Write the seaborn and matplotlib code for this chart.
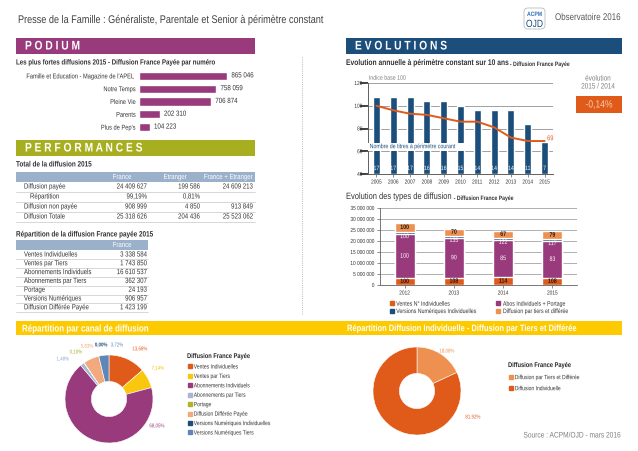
import matplotlib
matplotlib.use("Agg")
import matplotlib.pyplot as plt
import matplotlib.text as mtext
from matplotlib.lines import Line2D
from matplotlib.patches import Rectangle, FancyBboxPatch
from matplotlib.patheffects import AbstractPathEffect
from matplotlib.transforms import Affine2D
import numpy as np
import seaborn as sns

# --- data ---------------------------------------------------------------
podium_titles = ["Famille et Education - Magazine de l'APEL", "Notre Temps",
                 "Pleine Vie", "Parents", "Plus de Pep's"]
podium_values = [865046, 758059, 706874, 202310, 104223]

total_rows = ["Diffusion payée", "Répartition", "Diffusion non payée", "Diffusion Totale"]
total_france = [24409627, None, 908999, 25318626]
total_etranger = [199586, None, 4850, 204436]
total_all = [24609213, None, 913849, 25523062]
repartition_pct = ["99,19%", "0,81%", ""]

canal_rows = ["Ventes Individuelles", "Ventes par Tiers", "Abonnements Individuels",
              "Abonnements par Tiers", "Portage", "Versions Numériques",
              "Diffusion Différée Payée"]
canal_france = [3338584, 1743850, 16610537, 362307, 24193, 906957, 1423199]

evo_years = list(range(2005, 2016))
evo_index = [100, 96, 93, 92, 89, 86, 86, 81, 72, 69, 69]
evo_titles = [17, 17, 17, 16, 16, 15, 14, 14, 14, 11, 7]
evo_change = "-0,14%"

type_years = ["2012", "2013", "2014", "2015"]
type_names = ["Ventes N° Individuelles", "Abos Individuels + Portage",
              "Versions Numériques Individuelles", "Diffusion par tiers et différée"]
type_vi = [3.09e6, 3.34e6, 3.52e6, 3.34e6]
type_abos = [20.04e6, 18.04e6, 17.03e6, 16.63e6]
type_vn = [0.78e6, 1.05e6, 0.95e6, 0.91e6]
type_tiers = [4.47e6, 3.13e6, 2.99e6, 3.53e6]
idx_vi = [100, 108, 114, 108]
idx_abos = [100, 90, 85, 83]
idx_vn = [100, 135, 122, 117]
idx_tiers = [100, 70, 67, 79]

pie_labels = ["Ventes Individuelles", "Ventes par Tiers", "Abonnements Individuels",
              "Abonnements par Tiers", "Portage", "Diffusion Différée Payée",
              "Versions Numériques Individuelles", "Versions Numériques Tiers"]
pie_values = [3338584, 1743850, 16610537, 362307, 24193, 1423199, 0, 906957]

indiv_labels = ["Diffusion par Tiers et Différée", "Diffusion Individuelle"]
indiv_pct = [18.08, 81.92]

# --- style --------------------------------------------------------------
PURPLE = "#993A7D"
OLIVE = "#A7AE1F"
YELLOW = "#FDCA00"
NAVY = "#1C4E7C"
HEAD = "#9AB0CB"
ORANGE = "#E05A1A"
LORANGE = "#EE9150"
TXT = "#333333"
GREY = "#7F7F7F"
SX = 0.82  # horizontal squeeze to mimic a narrow font

sns.set_theme(style="white")
plt.rcParams["font.family"] = ["Liberation Sans", "DejaVu Sans"]


class Condense(AbstractPathEffect):
    """Squeeze glyphs horizontally around an anchor x (display coords)."""

    def __init__(self, sx, x0):
        super().__init__()
        self.sx, self.x0 = sx, x0

    def draw_path(self, renderer, gc, tpath, affine, rgbFace=None):
        aff = affine + Affine2D().translate(-self.x0, 0).scale(self.sx, 1).translate(self.x0, 0)
        renderer.draw_path(gc, tpath, aff, rgbFace)


W, H = 638, 452
fig = plt.figure(figsize=(W / 100, H / 100), dpi=100)
bg = fig.add_axes([0, 0, 1, 1])
bg.set_xlim(0, W)
bg.set_ylim(H, 0)
bg.axis("off")


def box(l, t, r, b):
    return [l / W, 1 - b / H, (r - l) / W, (b - t) / H]


def fmt(v):
    return f"{int(round(v)):,}".replace(",", " ")


def pct(v):
    return f"{v:.2f}%".replace(".", ",")


def banner(l, t, r, b, color, text, size=9):
    bg.add_patch(Rectangle((l, t), r - l, b - t, color=color, lw=0))
    bg.text(l + 9, (t + b) / 2 + 0.5, text, color="white", fontsize=size,
            fontweight="bold", va="center", ha="left")


def title_pair(x, y, main, sub, main_size=6.0, weight="bold"):
    t = bg.text(x, y, main, fontsize=main_size, fontweight=weight, color=TXT,
                va="baseline", ha="left")
    bg.annotate(sub, xy=(SX, 0), xycoords=t, fontsize=4.5, fontweight="bold",
                color=TXT, va="bottom", ha="left")


# --- header -------------------------------------------------------------
bg.text(18, 21, "Presse de la Famille : Généraliste, Parentale et Senior à périmètre constant",
        fontsize=8.0, color="#404040", va="center", ha="left")
bg.add_patch(FancyBboxPatch((524, 9), 21, 21, boxstyle="round,pad=0,rounding_size=4",
                            fc="white", ec="#BBBBBB", lw=0.6))
bg.text(534.5, 15.5, "ACPM", fontsize=4.5, color="#2A6EBB", fontweight="bold",
        ha="center", va="center")
bg.text(534.5, 25, "OJD", fontsize=7.5, color=NAVY, ha="center", va="center")
bg.text(555, 18, "Observatoire 2016", fontsize=7, color="#595959", va="center")

bg.plot([302, 302], [58, 315], ls=":", color="#A0A0A0", lw=0.6)

banner(16, 39, 255, 55, PURPLE, "P O D I U M")
banner(16, 141, 255, 157, OLIVE, "P E R F O R M A N C E S")
banner(346, 39, 622, 55, NAVY, "E V O L U T I O N S")
bg.add_patch(Rectangle((16, 322), 606, 14, color=YELLOW, lw=0))
bg.text(22, 329.5, "Répartition par canal de diffusion", color="white", fontsize=7,
        fontweight="bold", va="center")
bg.text(347, 329.5, "Répartition Diffusion Individuelle - Diffusion par Tiers et Différée",
        color="white", fontsize=6.6, fontweight="bold", va="center")

# --- podium -------------------------------------------------------------
bg.text(16, 64, "Les plus fortes diffusions 2015 - Diffusion France Payée par numéro",
        fontsize=5.4, fontweight="bold", color=TXT, va="center")
ax = fig.add_axes(box(139, 70.5, 250, 134.5))
sns.barplot(x=podium_values, y=podium_titles, orient="h", color=PURPLE,
            saturation=1, width=0.63, ax=ax)
ax.set_xlim(0, podium_values[0] * 111 / 88)
ax.set_xticks([])
ax.tick_params(axis="y", length=0, pad=2, labelsize=5, labelcolor=TXT)
ax.set_xlabel("")
ax.set_ylabel("")
sns.despine(ax=ax, left=True, bottom=True)
for i, v in enumerate(podium_values):
    ax.text(v + podium_values[0] * 0.05, i, fmt(v), fontsize=5.4, color=TXT, va="center")

# --- table 1 ------------------------------------------------------------
bg.text(16, 166, "Total de la diffusion 2015", fontsize=5.6, fontweight="bold",
        color=TXT, va="center")
bg.add_patch(Rectangle((16, 173), 239, 10, color=HEAD, lw=0))
for x, h in zip([122, 175, 228], ["France", "Etranger", "France + Etranger"]):
    bg.text(x, 178.5, h, color="white", fontsize=5.3, ha="center", va="center")
for i, name in enumerate(total_rows):
    y = 188 + 10 * i
    bg.text(30 if name == "Répartition" else 24, y, name, fontsize=5.3, color=TXT, va="center")
    if total_france[i] is None:
        cells = repartition_pct
    else:
        cells = [fmt(total_france[i]), fmt(total_etranger[i]), fmt(total_all[i])]
    for x, c in zip([147, 200, 253], cells):
        bg.text(x, y, c, fontsize=5.3, color=TXT, ha="right", va="center")
    bg.plot([16, 255], [y + 5, y + 5], color="#C8C8C8", lw=0.5)

# --- table 2 ------------------------------------------------------------
bg.text(16, 236, "Répartition de la diffusion France payée 2015", fontsize=5.6,
        fontweight="bold", color=TXT, va="center")
bg.add_patch(Rectangle((16, 241), 132, 10, color=HEAD, lw=0))
bg.text(122, 246.5, "France", color="white", fontsize=5.3, ha="center", va="center")
for i, (name, v) in enumerate(zip(canal_rows, canal_france)):
    y = 256 + 8.8 * i
    bg.text(24, y, name, fontsize=5.3, color=TXT, va="center")
    bg.text(147, y, fmt(v), fontsize=5.3, color=TXT, ha="right", va="center")
    bg.plot([16, 148], [y + 4.4, y + 4.4], color="#C8C8C8", lw=0.5)

# --- evolution 10 ans ---------------------------------------------------
title_pair(346, 66, "Evolution annuelle à périmètre constant sur 10 ans", " - Diffusion France Payée",
           main_size=5.9)
ax_bar = fig.add_axes(box(368, 84, 553, 175))
sns.barplot(x=evo_years, y=evo_titles, color=NAVY, saturation=1, width=0.42, ax=ax_bar)
ax_bar.set_ylim(0, 20)
ax_bar.set_yticks([0, 5, 10, 15, 20])
ax_bar.yaxis.grid(True, color="#909090", lw=0.6)
ax_bar.set_axisbelow(True)
ax_bar.tick_params(axis="y", left=False, labelleft=False)
ax_bar.tick_params(axis="x", labelsize=4.2, labelcolor=TXT, length=2, width=0.5,
                   color="#606060", pad=2, bottom=True)
ax_bar.set_xlabel("")
ax_bar.set_ylabel("")
for i, n in enumerate(evo_titles):
    ax_bar.text(i, 1.2, str(n), color="white", fontsize=4.5, ha="center", va="center")

ax_line = ax_bar.twinx()
sns.lineplot(x=np.arange(len(evo_years)), y=evo_index, color=ORANGE, lw=1.4, ax=ax_line)
ax_line.set_ylim(40, 120)
ax_line.set_yticks([40, 60, 80, 100, 120])
ax_line.yaxis.tick_left()
ax_line.tick_params(axis="y", labelsize=4.2, labelcolor=TXT, length=2, width=0.5,
                    color="#606060", pad=2, left=True, right=False)
ax_line.set_ylabel("")
ax_bar.set_xlim(-0.5, len(evo_years) - 0.5)
for a in (ax_bar, ax_line):
    for s in ("top", "right"):
        a.spines[s].set_visible(False)
    for s in ("left", "bottom"):
        a.spines[s].set_color("#606060")
        a.spines[s].set_linewidth(0.6)
ax_line.text(len(evo_years) - 0.85, evo_index[-1] + 2, str(evo_index[-1]), color=ORANGE,
             fontsize=5, va="center", ha="left")
ax_line.text(-0.4, 64, "Nombre de titres à périmètre courant", color=NAVY, fontsize=4.6,
             va="center", ha="left",
             bbox=dict(fc="white", ec="none", pad=1.0))
ax_line.text(-0.45, 122, "Indice base 100", color=GREY, fontsize=4.6, va="bottom", ha="left")

bg.text(598, 80, "évolution", fontsize=5.6, color=GREY, ha="center", va="center")
bg.text(598, 88, "2015 / 2014", fontsize=5.6, color=GREY, ha="center", va="center")
bg.add_patch(Rectangle((576, 97), 46, 17, color=ORANGE, lw=0))
bg.text(599, 105.5, evo_change, fontsize=7.5, color="#F8CDB4", ha="center", va="center")

# --- evolution types ----------------------------------------------------
title_pair(346, 200, "Evolution des types de diffusion", " - Diffusion France Payée",
           main_size=6.6, weight="normal")
ax_t = fig.add_axes(box(380, 209, 577, 286))
segs = np.array([type_vi, type_abos, type_vn, type_tiers])
idxs = [idx_vi, idx_abos, idx_vn, idx_tiers]
cum = segs.cumsum(axis=0)
seg_colors = [ORANGE, PURPLE, NAVY, LORANGE]
for k in reversed(range(4)):
    sns.barplot(x=type_years, y=cum[k], color=seg_colors[k], saturation=1, width=0.41, ax=ax_t)
lab_colors = ["#1a1a1a", "white", "white", "#1a1a1a"]
for k in range(4):
    for i in range(len(type_years)):
        y = cum[k][i] - segs[k][i] / 2
        va = "center"
        if k == 2:
            y = cum[k][i] - segs[k][i]
            va = "top"
        ax_t.text(i, y, str(idxs[k][i]), color=lab_colors[k], fontsize=4.6,
                  fontweight="bold" if k in (0, 3) else "normal", ha="center", va=va)
ax_t.set_ylim(0, 35e6)
ticks = np.arange(0, 35e6 + 1, 5e6)
ax_t.set_yticks(ticks)
ax_t.set_yticklabels([fmt(t) for t in ticks])
ax_t.yaxis.grid(True, color="#909090", lw=0.5)
ax_t.set_axisbelow(True)
ax_t.tick_params(labelsize=4.2, labelcolor=TXT, length=2, width=0.5, color="#606060",
                 pad=2, left=True, bottom=True)
ax_t.set_xlabel("")
ax_t.set_ylabel("")
sns.despine(ax=ax_t)
for s in ("left", "bottom"):
    ax_t.spines[s].set_color("#606060")
    ax_t.spines[s].set_linewidth(0.6)
handles = [Line2D([], [], marker="s", ls="", ms=2.5, color=c) for c in seg_colors]
order = [0, 2, 1, 3]
ax_t.legend([handles[i] for i in order], [type_names[i] for i in order], ncol=2,
            loc="upper left", bbox_to_anchor=(386 / W, 1 - 299 / H),
            bbox_transform=fig.transFigure, frameon=False, fontsize=4.6,
            handlelength=0.8, handletextpad=0.3, labelspacing=0.3, columnspacing=0.4,
            borderpad=0, labelcolor=TXT)

# --- pie canal ----------------------------------------------------------
pie_colors = [ORANGE, "#F9C80E", PURPLE, "#A9B6CF", "#B3B32B", "#F2A97E", NAVY, "#5D87B8"]
pie_text_colors = [ORANGE, "#F2C200", PURPLE, "#8FA7CC", "#A5AD1F", "#F2A77A", NAVY, "#5D87B8"]
label_pos = [(0.70, 1.14), (1.11, 0.70), (1.09, -0.61), (-1.05, 0.91),
             (-0.75, 1.07), (-0.50, 1.20), (-0.18, 1.23), (0.18, 1.23)]
ax_p = fig.add_axes(box(65, 356, 153, 444))
ax_p.pie(pie_values, colors=pie_colors, startangle=90, counterclock=False,
         wedgeprops=dict(width=0.6, edgecolor="white", linewidth=0.4))
ax_p.set_xlim(-1, 1)
ax_p.set_ylim(-1, 1)
tot = sum(pie_values)
for v, c, (x, y) in zip(pie_values, pie_text_colors, label_pos):
    ax_p.text(x, y, pct(v / tot * 100), color=c, fontsize=3.9, ha="center", va="center",
              clip_on=False, fontweight="bold" if v == 0 else "normal")
ph = [Line2D([], [], marker="s", ls="", ms=2.5, color=c) for c in pie_colors]
ax_p.legend(ph, pie_labels, title="Diffusion France Payée", loc="upper left",
            bbox_to_anchor=(184 / W, 1 - 351 / H), bbox_transform=fig.transFigure,
            frameon=False, fontsize=4.4, handlelength=0.8, handletextpad=0.3,
            labelspacing=0.68, borderpad=0, alignment="left", labelcolor=TXT,
            title_fontproperties=dict(weight="bold", size=5))

# --- pie individuelle ---------------------------------------------------
indiv_colors = [LORANGE, ORANGE]
ax_q = fig.add_axes(box(373, 348, 461, 436))
ax_q.pie(indiv_pct, colors=indiv_colors, startangle=90, counterclock=False,
         wedgeprops=dict(width=0.6, edgecolor="white", linewidth=0.4))
ax_q.set_xlim(-1, 1)
ax_q.set_ylim(-1, 1)
for v, c, (x, y) in zip(indiv_pct, indiv_colors, [(0.68, 0.91), (1.27, -0.59)]):
    ax_q.text(x, y, pct(v), color=c, fontsize=3.9, ha="center", va="center", clip_on=False)
qh = [Line2D([], [], marker="s", ls="", ms=2.5, color=c) for c in indiv_colors]
ax_q.legend(qh, indiv_labels, title="Diffusion France Payée", loc="upper left",
            bbox_to_anchor=(505 / W, 1 - 360 / H), bbox_transform=fig.transFigure,
            frameon=False, fontsize=4.4, handlelength=0.8, handletextpad=0.3,
            labelspacing=0.95, borderpad=0, alignment="left", labelcolor=TXT,
            title_fontproperties=dict(weight="bold", size=5))

bg.text(620, 437, "Source : ACPM/OJD - mars 2016", fontsize=5.8, color=GREY,
        ha="right", va="center")

# squeeze every text horizontally around its own anchor
fig.canvas.draw()
renderer = fig.canvas.get_renderer()
for t in fig.findobj(mtext.Text):
    if not t.get_visible() or not t.get_text().strip():
        continue
    bb = t.get_window_extent(renderer)
    ha = t.get_horizontalalignment()
    x0 = {"left": bb.x0, "center": (bb.x0 + bb.x1) / 2, "right": bb.x1}.get(ha, bb.x0)
    t.set_path_effects([Condense(SX, x0)])

fig.savefig("out.png", dpi=100)
